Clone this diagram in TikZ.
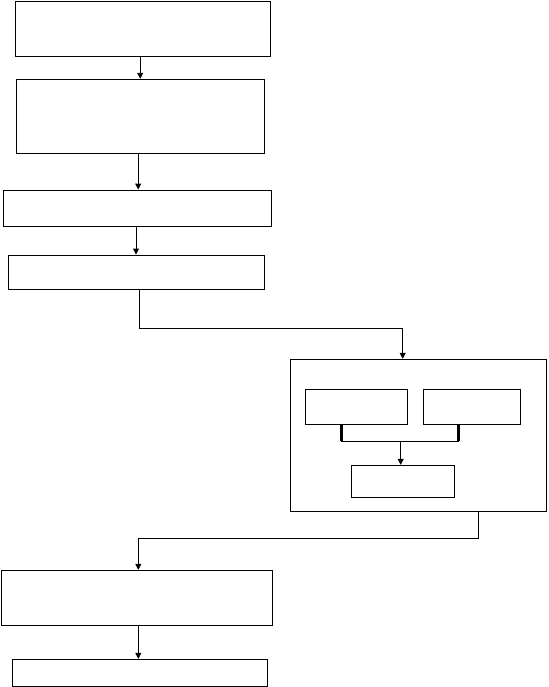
\documentclass[tikz,border=0pt]{standalone}
\usetikzlibrary{arrows.meta}
\begin{document}
\begin{tikzpicture}[x=1pt,y=-1pt,>={Triangle[width=6pt,length=6pt]},line width=0.9pt,
  blk/.style={draw,rectangle,inner sep=0pt}]
\useasboundingbox (0,0) rectangle (548,687);
\node[blk,minimum width=255pt,minimum height=55pt] (A) at (142.5,28.8) {};
\node[blk,minimum width=248pt,minimum height=74pt] (B) at (140.2,116.3) {};
\node[blk,minimum width=268pt,minimum height=36pt] (C) at (137,208) {};
\node[blk,minimum width=256pt,minimum height=34pt] (D) at (136,272) {};
\node[blk,minimum width=256pt,minimum height=152pt] (E) at (418.7,435.3) {};
\node[blk,minimum width=102.4pt,minimum height=35pt] (F1) at (356.5,406.8) {};
\node[blk,minimum width=97.4pt,minimum height=35pt] (F2) at (472,406.8) {};
\node[blk,minimum width=103.4pt,minimum height=32pt] (G) at (403,481.3) {};
\node[blk,minimum width=271pt,minimum height=55pt] (H) at (137.2,597.8) {};
\node[blk,minimum width=255pt,minimum height=27pt] (I) at (140.2,672.8) {};
\coordinate (dE) at (139.3,328.5);
\coordinate (j) at (400.7,441.3);
\coordinate (eH) at (478.7,538.5);
\draw[->] (B.north |- A.south)--(B.north);
\draw[->] ([xshift=-2pt]B.south)--([xshift=-2pt]B.south |- C.north);
\draw[->] (D.north |- C.south)--(D.north);
\draw[->] (dE |- D.south)--(dE)-|([xshift=-16pt]E.north);
\draw[line width=3pt] ([xshift=-15.2pt]F1.south)--([xshift=-15.2pt]F1.south |- j);
\draw[line width=3pt] ([xshift=-13.3pt]F2.south)--([xshift=-13.3pt]F2.south |- j);
\draw ([xshift=-15.2pt]F1.south |- j)--([xshift=-13.3pt]F2.south |- j);
\draw[->] (j)--(j |- G.north);
\draw[->] (eH |- E.south)--(eH)-|([xshift=1.1pt]H.north);
\draw[->] ([xshift=1.1pt]H.south)--([xshift=1.1pt]H.south |- I.north);
\end{tikzpicture}
\end{document}
